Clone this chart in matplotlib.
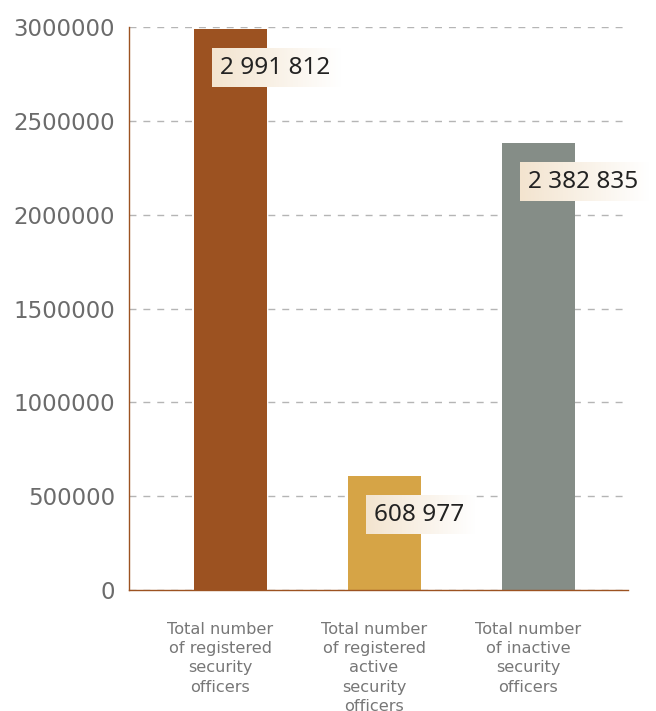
import matplotlib.pyplot as plt
import numpy as np
from matplotlib.ticker import FuncFormatter
from matplotlib.transforms import ScaledTranslation

categories = [
    "Total number\nof registered\nsecurity\nofficers",
    "Total number\nof registered\nactive\nsecurity\nofficers",
    "Total number\nof inactive\nsecurity\nofficers",
]
values = [2991812, 608977, 2382835]
value_labels = ["2 991 812", "608 977", "2 382 835"]
colors = ["#9c5221", "#d6a446", "#858d87"]

fig = plt.figure(figsize=(6.56, 7.11), dpi=100)
ax = fig.add_axes([129 / 656, 1 - 590 / 711, 499 / 656, 563 / 711])

x = np.arange(len(values))
ax.bar(x, values, width=0.474, color=colors, zorder=2)
ax.set_xlim(-0.656, 2.584)
ax.set_ylim(0, 3000000)
ax.set_yticks(np.arange(0, 3000001, 500000))
ax.yaxis.set_major_formatter(FuncFormatter(lambda v, p: f"{int(v)}"))
ax.yaxis.grid(True, linestyle=(0, (5, 5)), color="#b5b5b5", linewidth=1, zorder=0)
ax.tick_params(axis="y", length=0, labelsize=16.5, labelcolor="#6b6b6b", pad=10)
ax.tick_params(axis="x", length=0, labelsize=11.6, labelcolor="#777777", pad=23)
ax.set_xticks(x)
ax.set_xticklabels(categories, linespacing=1.35)
shift = ScaledTranslation(-10 / 100, 0, fig.dpi_scale_trans)
for lab in ax.get_xticklabels():
    lab.set_transform(lab.get_transform() + shift)
for s in ["top", "right"]:
    ax.spines[s].set_visible(False)
for s in ["left", "bottom"]:
    ax.spines[s].set_color("#9c5221")
    ax.spines[s].set_linewidth(1)

# value labels on a cream-to-white gradient box
grad = np.linspace(0, 1, 256).reshape(1, -1)
c0 = np.array([0xf3, 0xe4, 0xcf]) / 255
c1 = np.array([1.0, 1.0, 1.0])
gimg = c0[None, None, :] * (1 - grad[..., None]) + c1[None, None, :] * grad[..., None]

texts = []
for xi, v, lab in zip(x, values, value_labels):
    t = ax.annotate(lab, xy=(xi - 0.237, v), xytext=(26, -39),
                    textcoords="offset pixels", ha="left", va="center",
                    fontsize=17.5, family="Noto Sans", color="#222222", zorder=5)
    texts.append(t)

fig.canvas.draw()
renderer = fig.canvas.get_renderer()
for t in texts:
    bb = t.get_window_extent(renderer)
    yc = (bb.y0 + bb.y1) / 2
    x0, x1 = bb.x0 - 8, bb.x1 + 10
    y0, y1 = yc - 19.5, yc + 19.5
    gax = fig.add_axes([x0 / 656, y0 / 711, (x1 - x0) / 656, (y1 - y0) / 711], zorder=3)
    gax.imshow(gimg, aspect="auto", extent=(0, 1, 0, 1))
    gax.axis("off")
    fig.text(bb.x0 / 656, yc / 711, t.get_text(), ha="left", va="center",
             fontsize=17.5, family="Noto Sans", color="#222222", zorder=6)
    t.set_visible(False)

plt.savefig("out.png", dpi=100)
